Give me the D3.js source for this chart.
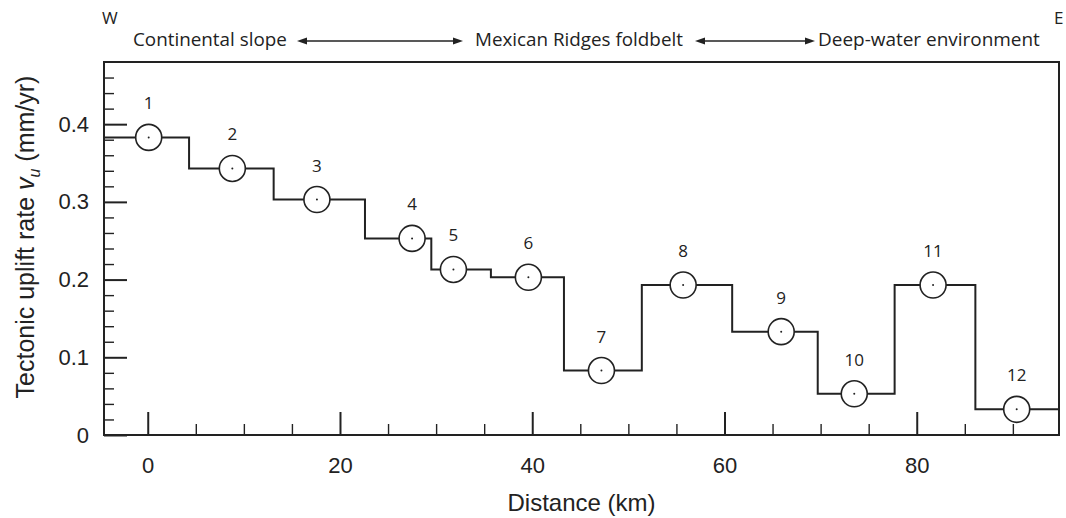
<!DOCTYPE html>
<html lang="en">
<head>
    <meta charset='utf-8'>
    <title>Tectonic uplift rate</title>
    <style>
        body { margin: 0; background: #fff; }
        .tick text { font-family: "Liberation Sans", Arial, sans-serif; font-size: 22px; fill: #222; }
        .note { font-family: "Open Sans", sans-serif; fill: #222; }
        .axis-title { font-family: "Liberation Sans", Arial, sans-serif; font-size: 24px; fill: #222; }
    </style>
</head>
<body>
<div id="chart"></div>
<script src="https://cdn.jsdelivr.net/npm/d3@7"></script>
<script>
    var width = 1066, height = 518;

    // step profile: edges (km) and uplift rate of each segment (mm/yr)
    var stepEdges = [-4.55, 4.3, 13.1, 22.6, 29.5, 35.7, 43.3, 51.4, 60.8, 69.7, 77.7, 86.1, 94.8];
    var stepLevels = [0.383, 0.343, 0.303, 0.253, 0.213, 0.203, 0.083, 0.193, 0.133, 0.053, 0.193, 0.033];

    // sample sites
    var siteNames = ["1", "2", "3", "4", "5", "6", "7", "8", "9", "10", "11", "12"];
    var siteDist = [0.1, 8.8, 17.6, 27.5, 31.8, 39.6, 47.2, 55.7, 65.9, 73.5, 81.7, 90.4];
    var siteRate = [0.383, 0.343, 0.303, 0.253, 0.213, 0.203, 0.083, 0.193, 0.133, 0.053, 0.193, 0.033];

    var xMajor = [0, 20, 40, 60, 80];
    var xMinor = [5, 10, 15, 25, 30, 35, 45, 50, 55, 65, 70, 75, 85, 90];
    var yMajor = [0, 0.1, 0.2, 0.3, 0.4];
    var yMinor = [0.02, 0.04, 0.06, 0.08, 0.12, 0.14, 0.16, 0.18, 0.22, 0.24, 0.26, 0.28,
        0.32, 0.34, 0.36, 0.38, 0.42, 0.44, 0.46];

    var pLeft = 104, pRight = 1059, pTop = 62, pBottom = 435;

    var x = d3.scaleLinear().domain([-4.55, 94.8]).range([pLeft, pRight]);
    var y = d3.scaleLinear().domain([0, 0.48]).range([pBottom, pTop]);

    var svg = d3.select("#chart").append("svg")
        .attr("width", width).attr("height", height);

    // ticks (inside the frame)
    function styleAxis(g, w) {
        g.select(".domain").remove();
        g.selectAll(".tick line").attr("stroke", "#222").attr("stroke-width", w);
    }
    svg.append("g").attr("transform", "translate(0," + pBottom + ")")
        .call(d3.axisBottom(x).tickValues(xMinor).tickSizeInner(-11).tickSizeOuter(0).tickFormat(""))
        .call(styleAxis, 1.4);
    svg.append("g").attr("transform", "translate(0," + pBottom + ")")
        .call(d3.axisBottom(x).tickValues(xMajor).tickSizeInner(-23).tickSizeOuter(0).tickPadding(22)
            .tickFormat(d3.format("d")))
        .call(styleAxis, 2);
    svg.append("g").attr("transform", "translate(" + pLeft + ",0)")
        .call(d3.axisLeft(y).tickValues(yMinor).tickSizeInner(-10).tickSizeOuter(0).tickFormat(""))
        .call(styleAxis, 1.4);
    svg.append("g").attr("transform", "translate(" + pLeft + ",0)")
        .call(d3.axisLeft(y).tickValues(yMajor).tickSizeInner(-23).tickSizeOuter(0).tickPadding(15)
            .tickFormat(function(d) { return d === 0 ? "0" : d3.format(".1f")(d); }))
        .call(styleAxis, 2);

    // frame
    svg.append("rect")
        .attr("x", pLeft).attr("y", pTop)
        .attr("width", pRight - pLeft).attr("height", pBottom - pTop)
        .attr("fill", "none").attr("stroke", "#222").attr("stroke-width", 2);

    // step line
    var stepPts = stepLevels.map(function(v, i) { return [stepEdges[i], v]; });
    stepPts.push([stepEdges[stepEdges.length - 1], stepLevels[stepLevels.length - 1]]);
    var line = d3.line()
        .x(function(d) { return x(d[0]); })
        .y(function(d) { return y(d[1]); })
        .curve(d3.curveStepAfter);
    svg.append("path").datum(stepPts)
        .attr("d", line)
        .attr("fill", "none").attr("stroke", "#222").attr("stroke-width", 2);

    // sites
    var sites = siteNames.map(function(n, i) { return {name: n, d: siteDist[i], v: siteRate[i]}; });
    var g = svg.selectAll(".site").data(sites).enter().append("g").attr("class", "site");
    g.append("circle")
        .attr("cx", function(d) { return x(d.d); })
        .attr("cy", function(d) { return y(d.v); })
        .attr("r", 13)
        .attr("fill", "#fff").attr("stroke", "#222").attr("stroke-width", 1.6);
    g.append("circle")
        .attr("cx", function(d) { return x(d.d); })
        .attr("cy", function(d) { return y(d.v); })
        .attr("r", 1).attr("fill", "#222");
    g.append("text")
        .attr("class", "note")
        .attr("x", function(d) { return x(d.d); })
        .attr("y", function(d) { return y(d.v) - 28; })
        .attr("text-anchor", "middle")
        .style("font-size", "17px")
        .text(function(d) { return d.name; });

    // axis titles
    svg.append("text").attr("class", "axis-title")
        .attr("x", (pLeft + pRight) / 2).attr("y", 511)
        .attr("text-anchor", "middle")
        .text("Distance (km)");

    var yt = svg.append("text").attr("class", "axis-title")
        .attr("transform", "translate(34,237) rotate(-90)")
        .attr("text-anchor", "middle")
        .style("font-size", "25px");
    yt.append("tspan").text("Tectonic uplift rate ");
    yt.append("tspan").style("font-style", "italic").text("v");
    yt.append("tspan").style("font-style", "italic").style("font-size", "16px").attr("dy", 6).text("u");
    yt.append("tspan").attr("dy", -6).text(" (mm/yr)");

    // top annotations
    function note(txt, x0, x1, yb, size) {
        var t = svg.append("text").attr("class", "note")
            .attr("x", x0).attr("y", yb).style("font-size", size + "px").text(txt);
        if (x1) {
            var w = t.node().getComputedTextLength();
            t.style("font-size", (size * (x1 - x0) / w) + "px");
        }
    }
    note("W", 102, null, 24, 17);
    note("E", 1054, null, 24, 17);
    note("Continental slope", 133, 287, 46, 17);
    note("Mexican Ridges foldbelt", 475, 683, 46, 17);
    note("Deep-water environment", 818, 1040, 46, 17);

    function arrow(x0, x1, yy) {
        svg.append("line").attr("x1", x0 + 6).attr("x2", x1 - 6)
            .attr("y1", yy).attr("y2", yy)
            .attr("stroke", "#222").attr("stroke-width", 1.6);
        svg.append("path").attr("d", "M" + x1 + "," + yy + "l-10,-3.5v7z").attr("fill", "#222");
        svg.append("path").attr("d", "M" + x0 + "," + yy + "l10,-3.5v7z").attr("fill", "#222");
    }
    arrow(297, 463, 41);
    arrow(695, 815, 41);
</script>
</body>
</html>
